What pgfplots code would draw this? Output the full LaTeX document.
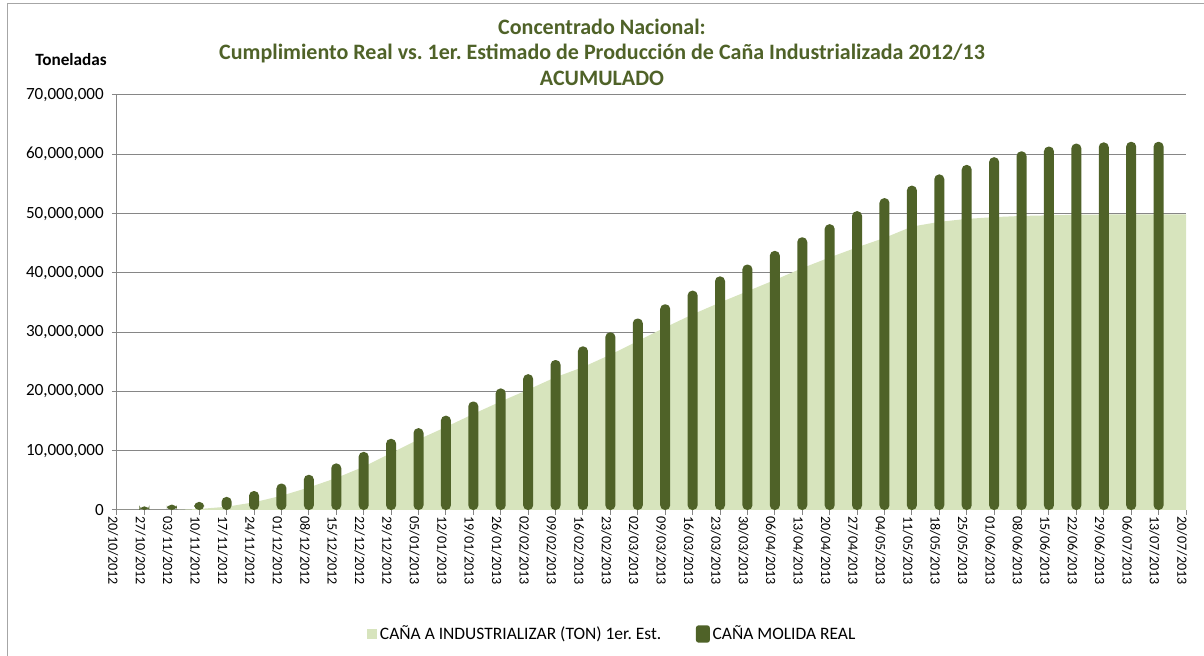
\documentclass[border=0pt]{standalone}
\usepackage{pgfplots}
\pgfplotsset{compat=1.18}
\usepackage{fontspec}
\setmainfont{Carlito}
\frenchspacing
\definecolor{darkolive}{HTML}{4F6228}
\definecolor{lightolive}{HTML}{D7E4BD}
\definecolor{gridgray}{HTML}{868686}
\definecolor{bordergray}{HTML}{A6A6A6}
\begin{document}
\begin{tikzpicture}
\path[use as bounding box] (0pt,0pt) rectangle (903pt,492pt);
\draw[bordergray, line width=0.75pt] (5.25pt,-5pt) -- (5.25pt,489pt) -- (910pt,489pt);
\node[align=center, text=darkolive, font=\fontsize{16.5}{19.2}\selectfont\bfseries] at (451.5pt,453pt)
 {Concentrado Nacional:\\Cumplimiento Real vs. 1er. Estimado de Producción de Caña Industrializada 2012/13\\ACUMULADO};
\node[font=\fontsize{12.9}{15}\selectfont\bfseries] at (53.25pt,447pt) {Toneladas};
\begin{axis}[
  at={(87.75pt,109.5pt)}, anchor=south west,
  scale only axis, width=801.75pt, height=311.25pt,
  xmin=0, xmax=39, ymin=0, ymax=70000000,
  axis x line*=bottom, axis y line*=left,
  axis line style={gridgray, line width=0.75pt},
  ymajorgrids, grid style={gridgray, line width=0.75pt},
  tick align=outside, major tick length=3.75pt,
  tick style={gridgray, line width=0.75pt},
  ytick={0,10000000,...,70000000},
  scaled y ticks=false,
  /pgf/number format/assume math mode=true,
  yticklabel style={/pgf/number format/fixed, /pgf/number format/precision=0, /pgf/number format/1000 sep={,},
     font=\fontsize{12.8}{15}\selectfont, inner sep=0pt, xshift=-6pt},
  xtick={0,...,39},
  xticklabels={20/10/2012,27/10/2012,03/11/2012,10/11/2012,17/11/2012,24/11/2012,01/12/2012,08/12/2012,15/12/2012,22/12/2012,29/12/2012,05/01/2013,12/01/2013,19/01/2013,26/01/2013,02/02/2013,09/02/2013,16/02/2013,23/02/2013,02/03/2013,09/03/2013,16/03/2013,23/03/2013,30/03/2013,06/04/2013,13/04/2013,20/04/2013,27/04/2013,04/05/2013,11/05/2013,18/05/2013,25/05/2013,01/06/2013,08/06/2013,15/06/2013,22/06/2013,29/06/2013,06/07/2013,13/07/2013,20/07/2013},
  xticklabel style={rotate=-90, anchor=west, font=\fontsize{10.6}{12}\selectfont, inner sep=0pt, xshift=1pt, yshift=-3pt},
  legend columns=2,
  legend style={at={(0.4637,-0.2988)}, anchor=center, draw=none, fill=none,
     font=\fontsize{13.1}{15}\selectfont, /tikz/every even column/.append style={column sep=24pt}},
]
\addplot[fill=lightolive, draw=none,
  legend image code/.code={\fill[lightolive] (0pt,-3.75pt) rectangle (7.5pt,3.75pt);}]
coordinates {
(0,0) (1,0) (2,0) (3,170000) (4,550000) (5,1300000) (6,2400000) (7,3800000) (8,5400000) (9,7300000)
(10,9600000) (11,11900000) (12,14000000) (13,16200000) (14,18300000) (15,20300000) (16,22400000) (17,24100000) (18,26200000) (19,28500000)
(20,30800000) (21,33000000) (22,35000000) (23,36900000) (24,38800000) (25,40800000) (26,42600000) (27,44300000) (28,45900000) (29,47800000)
(30,48600000) (31,49100000) (32,49400000) (33,49600000) (34,49700000) (35,49800000) (36,49850000) (37,49850000) (38,49850000) (39,49850000)
} \closedcycle;
\addlegendentry{CAÑA A INDUSTRIALIZAR (TON) 1er. Est.}
\addplot[ybar, bar width=7.5pt, fill=darkolive, draw=none, rounded corners=3.5pt,
  legend image code/.code={\fill[darkolive, rounded corners=2pt] (0pt,-6.5pt) rectangle (10.5pt,6.5pt);}]
coordinates {
(1,600000) (2,900000) (3,1360000) (4,2200000) (5,3200000) (6,4460000) (7,5930000) (8,7850000) (9,9800000)
(10,12000000) (11,13800000) (12,15900000) (13,18300000) (14,20500000) (15,22900000) (16,25300000) (17,27600000) (18,29970000) (19,32300000)
(20,34700000) (21,37000000) (22,39400000) (23,41400000) (24,43700000) (25,46000000) (26,48200000) (27,50400000) (28,52600000) (29,54700000)
(30,56600000) (31,58200000) (32,59500000) (33,60500000) (34,61300000) (35,61800000) (36,62000000) (37,62100000) (38,62100000)
};
\addlegendentry{CAÑA MOLIDA REAL}
\end{axis}
\end{tikzpicture}
\end{document}
